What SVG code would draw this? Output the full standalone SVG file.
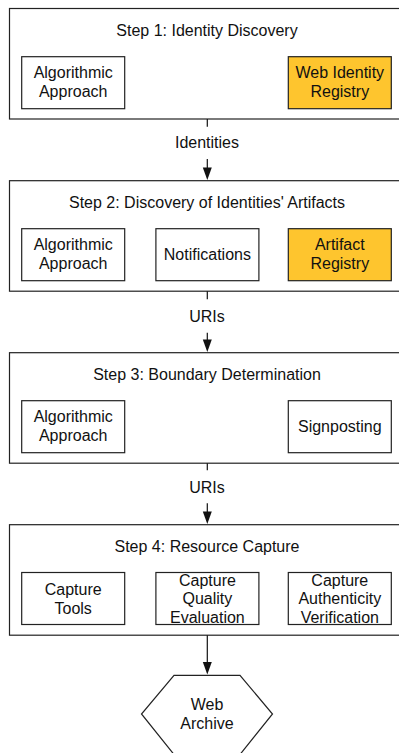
<svg xmlns="http://www.w3.org/2000/svg" width="399" height="753" viewBox="0 0 399 753">
<style>
.outer{fill:#fff;stroke:#222;stroke-width:1.2}
.box{fill:#fff;stroke:#222;stroke-width:1.2}
.hl{fill:#FEC52E}
text{font-family:"Liberation Sans",Arial,Helvetica,sans-serif;font-size:16px;fill:#111;text-anchor:middle}
.conn{stroke:#111;stroke-width:1.2;fill:none}
.head{fill:#111;stroke:none}
</style>
<rect x="0" y="0" width="399" height="753" fill="#fff"/>
<g id="step1">
<rect class="outer" x="9.5" y="8.5" width="396" height="110.5"/>
<text x="207" y="36">Step 1: Identity Discovery</text>
<g id="s1-algo"><rect class="box" x="21.7" y="56.7" width="103" height="52"/><text x="73.2" y="77.5">Algorithmic</text><text x="73.2" y="96.5">Approach</text></g>
<g id="s1-registry"><rect class="box hl" x="288.3" y="56.7" width="103" height="52"/><text x="339.8" y="77.5">Web Identity</text><text x="339.8" y="96.5">Registry</text></g>
</g>
<g id="step2">
<rect class="outer" x="9.5" y="180.7" width="396" height="110.5"/>
<text x="207" y="208">Step 2: Discovery of Identities' Artifacts</text>
<g id="s2-algo"><rect class="box" x="21.7" y="228.7" width="103" height="52"/><text x="73.2" y="249.5">Algorithmic</text><text x="73.2" y="268.5">Approach</text></g>
<g id="s2-notif"><rect class="box" x="155.9" y="228.7" width="103" height="52"/><text x="207.4" y="260.2">Notifications</text></g>
<g id="s2-registry"><rect class="box hl" x="288.3" y="228.7" width="103" height="52"/><text x="339.8" y="249.5">Artifact</text><text x="339.8" y="268.5">Registry</text></g>
</g>
<g id="step3">
<rect class="outer" x="9.5" y="352.7" width="396" height="110.5"/>
<text x="207" y="380">Step 3: Boundary Determination</text>
<g id="s3-algo"><rect class="box" x="21.7" y="400.7" width="103" height="52"/><text x="73.2" y="421.5">Algorithmic</text><text x="73.2" y="440.5">Approach</text></g>
<g id="s3-signposting"><rect class="box" x="288.3" y="400.7" width="103" height="52"/><text x="339.8" y="432.2">Signposting</text></g>
</g>
<g id="step4">
<rect class="outer" x="9.5" y="524.7" width="396" height="110.5"/>
<text x="207" y="552">Step 4: Resource Capture</text>
<g id="s4-tools"><rect class="box" x="21.7" y="572.5" width="103" height="52"/><text x="73.2" y="594.5">Capture</text><text x="73.2" y="613.5">Tools</text></g>
<g id="s4-quality"><rect class="box" x="155.9" y="572.5" width="103" height="52"/><text x="207.4" y="585.5">Capture</text><text x="207.4" y="604">Quality</text><text x="207.4" y="622.5">Evaluation</text></g>
<g id="s4-auth"><rect class="box" x="288.3" y="572.5" width="103" height="52"/><text x="339.8" y="585.5">Capture</text><text x="339.8" y="604">Authenticity</text><text x="339.8" y="622.5">Verification</text></g>
</g>
<g id="web-archive">
<polygon class="box" points="174,675.3 240,675.3 272.5,714 240,754.5 174,754.5 141.5,714"/>
<text x="207" y="710">Web</text>
<text x="207" y="728.5">Archive</text>
</g>
<g id="connectors">
<line class="conn" x1="207.3" y1="119" x2="207.3" y2="126.7"/>
<line class="conn" x1="207.3" y1="159" x2="207.3" y2="170"/>
<polygon class="head" points="202.8,167.5 211.8,167.5 207.3,180"/>
<text x="207" y="147.7">Identities</text>
<line class="conn" x1="207.3" y1="291.2" x2="207.3" y2="299.3"/>
<line class="conn" x1="207.3" y1="332.7" x2="207.3" y2="342"/>
<polygon class="head" points="202.8,339.5 211.8,339.5 207.3,352"/>
<text x="207" y="321.7">URIs</text>
<line class="conn" x1="207.3" y1="463.2" x2="207.3" y2="470.3"/>
<line class="conn" x1="207.3" y1="503.3" x2="207.3" y2="514"/>
<polygon class="head" points="202.8,511.5 211.8,511.5 207.3,524"/>
<text x="207" y="492.7">URIs</text>
<line class="conn" x1="207.3" y1="635.2" x2="207.3" y2="664"/>
<polygon class="head" points="202.8,662 211.8,662 207.3,674.6"/>
</g>
</svg>
